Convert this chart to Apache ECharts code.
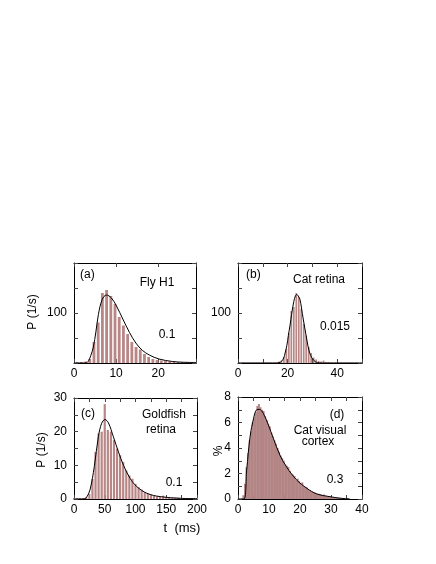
<!DOCTYPE html>
<html>
<head>
<meta charset="utf-8">
<script src="https://cdn.jsdelivr.net/npm/echarts@6/dist/echarts.min.js"></script>
<style>html,body{margin:0;padding:0;background:#fff}#c{width:436px;height:564px}</style>
</head>
<body>
<div id="c"></div>
<script>
// ---- Panel (a) Fly H1 ----
const aBinT = [0.75,1.75,2.75,3.75,4.75,5.75,6.75,7.75,8.75,9.75,10.75,11.75,12.75,13.75,14.75,15.75,16.75,17.75,18.75,19.75,20.75,21.75,22.75,23.75,24.75,25.75,26.75,27.75,28.75];
const aBinP = [2,2,3,8,42,81,140,146,134,118,92,75,58,42,32,27,18,12,8,6,5,4,3,3,2,2,2,2,2];
const aFitT = [0,2,3,3.5,4,4.6,5.2,5.8,6.7,7.7,8.9,10.1,11.6,13.2,14.7,16.3,17.9,20.2,23.4,26,29];
const aFitP = [0,0,0.5,5,15,32,62,97,127,136,130,114,88,61,40,25,16,8,3,1.5,1];
// ---- Panel (b) Cat retina ----
const bBinT = [0.5,1.5,2.5,3.5,4.5,5.5,6.5,7.5,8.5,9.5,10.5,11.5,12.5,13.5,14.5,15.5,16.5,17.5,18.5,19.5,20.5,21.5,22.5,23.5,24.5,25.5,26.5,27.5,28.5,29.5,30.5,31.5,32.5,33.5,34.5,35.5,36.5,37.5,38.5,39.5,40.5,41.5,42.5,43.5,44.5,45.5,46.5,47.5,48.5,49.5];
const bBinP = [1,1,1,1,1,1,1,1,1,1,1,1,1,1,1,1,3,5,12,28,60,104,112,140,132,108,78,55,32,20,11,7,4,3,5,2,2,1,1,1,1,1,1,1,1,1,1,1,1,1];
const bFitT = [0,15,16.5,17.5,18.5,19,19.7,20.3,21,21.6,22.5,23.2,23.7,24.3,25,25.6,26.3,27,27.7,28.3,29,29.7,30.4,31.2,32,33.5,50];
const bFitP = [0,0,0.5,3,11,20,35,55,76,97,123,135,137,134,127,110,88,68,48,32,19,11,6,2.5,1,0,0];
// ---- Panel (c) Goldfish retina ----
const cBinT = [0,5,10,15,20,25,30,35,40,45,50,55,60,65,70,75,80,85,90,95,100,105,110,115,120,125,130,135,140,145,150,155,160,165,170,175,180,185,190,195,200];
const cBinP = [0.3,0.3,0.3,0.3,0.5,1.5,6,14,19.5,20,28.2,20.5,20,17.5,15,13,11,8.5,7,6,4.5,3.5,2.8,2,1.6,1.3,1,0.8,0.7,1,0.6,0.5,0.4,0.4,0.4,0.3,0.3,0.3,0.3,0.3,0.3];
const cFitT = [0,15,20,26,33,39.6,45,50.4,56,64,72.3,80.5,91.3,102,118.5,140,173,200];
const cFitP = [0,0,0.4,2.7,9.6,18.5,22.5,23.6,22.6,18.5,14,10,6.1,3.7,1.7,0.7,0.2,0.1];
// ---- Panel (d) Cat visual cortex ----
const dBinT = [0.25,0.75,1.25,1.75,2.25,2.75,3.25,3.75,4.25,4.75,5.25,5.75,6.25,6.75,7.25,7.75,8.25,8.75,9.25,9.75,10.25,10.75,11.25,11.75,12.25,12.75,13.25,13.75,14.25,14.75,15.25,15.75,16.25,16.75,17.25,17.75,18.25,18.75,19.25,19.75,20.25,20.75,21.25,21.75,22.25,22.75,23.25,23.75,24.25,24.75,25.25,25.75,26.25,26.75,27.25,27.75,28.25,28.75,29.25,29.75,30.25,30.75,31.25,31.75,32.25,32.75,33.25,33.75,34.25,34.75];
const dBinP = [0,0,0.05,0.3,1.2,2.5,3.6,4.6,5.3,6.0,6.4,6.8,7.3,7.45,7.2,7.0,6.9,6.5,6.2,5.9,5.7,5.2,4.9,4.6,4.3,4.0,3.7,3.4,3.2,3.0,2.7,2.6,2.5,2.2,2.0,1.9,1.8,1.5,1.6,1.4,1.2,1.3,1.0,0.95,0.9,0.7,0.7,0.6,0.55,0.5,0.45,0.4,0.4,0.35,0.3,0.35,0.25,0.2,0.2,0.18,0.15,0.12,0.1,0.1,0.08,0.08,0.06,0.05,0.04,0.03];
const dFitT = [0,1.9,2.8,3.9,5,6,6.9,8.2,9.8,11.4,13.5,15.7,18.9,22.2,25.4,29.7,33.5,36];
const dFitP = [0,0,2.27,4.9,6.3,7.0,7.03,6.7,5.8,4.76,3.45,2.5,1.5,0.84,0.4,0.18,0.05,0.02];

const xMaxes = [29, 50, 200, 40];
const xIntervals = [10, 10, 25, 5];
const xLabelEvery = [10, 20, 50, 10];
const yMaxes = [200, 200, 30, 8];
const yIntervals = [50, 50, 5, 1];
const yLabelShow = [[100],[100],[0,10,20,30],[0,2,4,6,8]];

const FONT = 'Liberation Sans';
const grids = [
  {left:74, top:263, width:122, height:100},
  {left:238, top:263, width:124, height:100},
  {left:74, top:398, width:123, height:101},
  {left:238, top:397, width:124, height:102}
];
const xAxes = [], yAxes = [];
function near(v, list){ return list.some(x => Math.abs(x - v) < 1e-6); }
grids.forEach((g, i) => {
  ['bottom','top'].forEach((pos, k) => {
    xAxes.push({
      gridIndex:i, type:'value', position:pos, min:0, max:xMaxes[i], interval:xIntervals[i],
      axisLine:{show:true, onZero:false, lineStyle:{color:'#000', width:1}},
      axisTick:{show:true, inside:true, length:4, lineStyle:{color:'#444'}},
      splitLine:{show:false},
      axisLabel:{show:k===0, color:'#000', fontFamily:FONT, fontSize:12, margin:5,
        showMaxLabel:true,
        formatter: v => (Math.abs(v % xLabelEvery[i]) < 1e-6 ? String(v) : '')}
    });
  });
  ['left','right'].forEach((pos, k) => {
    yAxes.push({
      gridIndex:i, type:'value', position:pos, min:0, max:yMaxes[i], interval:yIntervals[i],
      axisLine:{show:true, onZero:false, lineStyle:{color:'#000', width:1}},
      axisTick:{show:true, inside:true, length:4, lineStyle:{color:'#444'}},
      splitLine:{show:false},
      axisLabel:{show:k===0, color:'#000', fontFamily:FONT, fontSize:12, margin:7,
        showMaxLabel:true,
        formatter: v => (near(v, yLabelShow[i]) ? String(v) : '')}
    });
  });
});

function pairs(t, p){ return t.map((x, j) => [x, p[j]]); }
const binSets = [[aBinT,aBinP,2.8],[bBinT,bBinP,1.7],[cBinT,cBinP,2.2],[dBinT,dBinP,2]];
const fitSets = [[aFitT,aFitP],[bFitT,bFitP],[cFitT,cFitP],[dFitT,dFitP]];
const series = [];
binSets.forEach((s, i) => {
  series.push({type:'bar', xAxisIndex:2*i, yAxisIndex:2*i, data:pairs(s[0], s[1]),
    barWidth:s[2], itemStyle:{color: i===3 ? '#b38585' : '#b98686'}, silent:true, animation:false, z:2});
});
fitSets.forEach((s, i) => {
  series.push({type:'line', xAxisIndex:2*i, yAxisIndex:2*i, data:pairs(s[0], s[1]),
    smooth:0.35, showSymbol:false, lineStyle:{color:'#000', width:1}, silent:true, animation:false, z:5});
});

function txt(x, y, s, align, size, rot){
  return {type:'text', x:x, y:y, rotation: rot || 0,
    style:{text:s, fill:'#000', font:(size||12)+'px "'+FONT+'"', textAlign:align||'left', textVerticalAlign:'middle'}, z:10};
}
const graphics = [
  txt(80, 275, '(a)', 'left'),
  txt(157, 283, 'Fly H1', 'center'),
  txt(167, 335, '0.1', 'center'),
  txt(246, 275, '(b)', 'left'),
  txt(319, 280, 'Cat retina', 'center'),
  txt(335, 327, '0.015', 'center'),
  txt(81, 414, '(c)', 'left'),
  txt(164, 415, 'Goldfish', 'center'),
  txt(161, 430, 'retina', 'center'),
  txt(174, 483, '0.1', 'center'),
  txt(337, 415, '(d)', 'center'),
  txt(320, 431, 'Cat visual', 'center'),
  txt(318, 442, 'cortex', 'center'),
  txt(335, 480, '0.3', 'center'),
  txt(182, 528, 't  (ms)', 'center', 13),
  {type:'text', x:33, y:312, rotation:Math.PI/2,
    style:{text:'P (1/s)', fill:'#000', font:'12px "'+FONT+'"', textAlign:'center', textVerticalAlign:'middle'}},
  {type:'text', x:42, y:450, rotation:Math.PI/2,
    style:{text:'P (1/s)', fill:'#000', font:'12px "'+FONT+'"', textAlign:'center', textVerticalAlign:'middle'}},
  {type:'text', x:219, y:451, rotation:Math.PI/2,
    style:{text:'%', fill:'#000', font:'12px "'+FONT+'"', textAlign:'center', textVerticalAlign:'middle'}}
];

const chart = echarts.init(document.getElementById('c'), null, {renderer:'canvas'});
chart.setOption({
  animation:false,
  backgroundColor:'#fff',
  grid: grids,
  xAxis: xAxes,
  yAxis: yAxes,
  series: series,
  graphic: graphics
});
</script>
</body>
</html>
